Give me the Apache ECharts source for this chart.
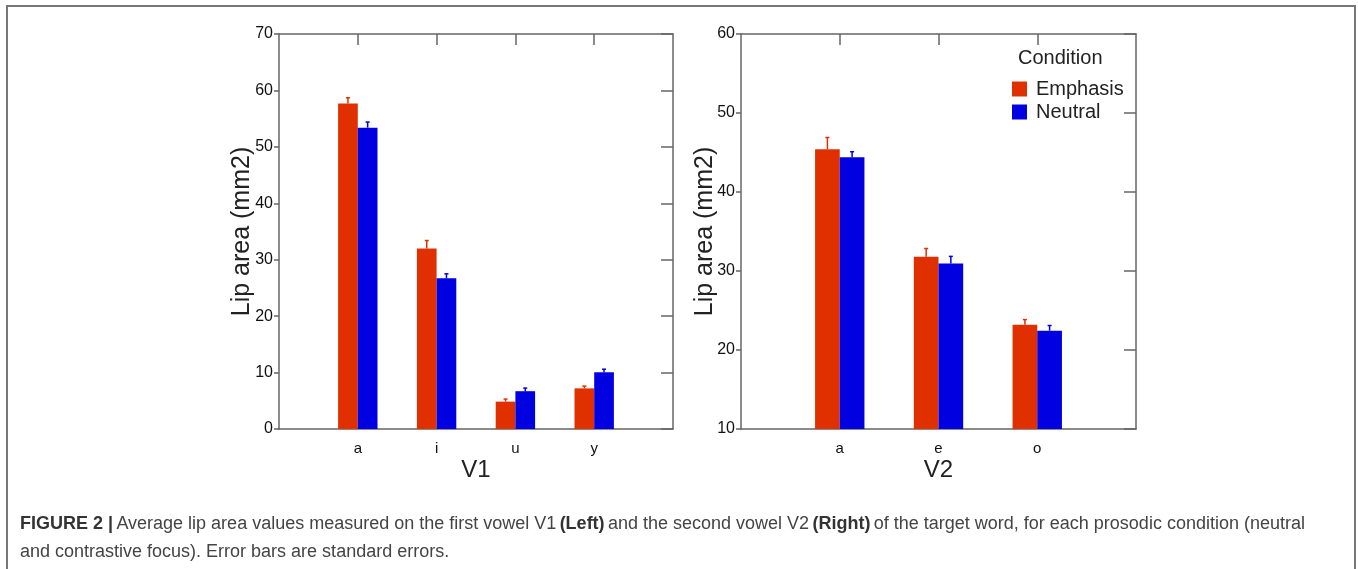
<!DOCTYPE html>
<html>
<head>
<meta charset="utf-8">
<script src="https://cdn.jsdelivr.net/npm/echarts@6/dist/echarts.min.js"></script>
<style>
html,body{margin:0;padding:0;background:#fff;}
#chart{width:1358px;height:569px;}
</style>
</head>
<body>
<div id="chart"></div>
<script>
// ---- data ----
const v1Categories = ['a', 'i', 'u', 'y'];
const v1Emphasis = [57.7, 32.0, 4.85, 7.2];
const v1EmphasisSE = [1.0, 1.4, 0.45, 0.4];
const v1Neutral = [53.4, 26.7, 6.7, 10.05];
const v1NeutralSE = [1.0, 0.8, 0.55, 0.55];

const v2Categories = ['a', 'e', 'o'];
const v2Emphasis = [45.4, 31.8, 23.2];
const v2EmphasisSE = [1.5, 1.05, 0.65];
const v2Neutral = [44.4, 30.95, 22.45];
const v2NeutralSE = [0.7, 0.9, 0.65];

const v1Ticks = { min: 0, max: 70, interval: 10 };
const v2Ticks = { min: 10, max: 60, interval: 10 };
const seriesNames = ['Emphasis', 'Neutral'];
// ---- end data ----

const RED = '#e03000';
const BLUE = '#0000e0';
const AXIS = '#666';
const FONT = '"Liberation Sans", Arial, Helvetica, sans-serif';

function padCats(c) { return [''].concat(c, ['']); }
function padVals(v) { return [null].concat(v, [null]); }

function errData(vals, se) {
  return vals.map((v, i) => [i + 1, v, v + se[i]]);
}

function errSeries(grid, vals, se, side, color) {
  return {
    type: 'custom',
    xAxisIndex: grid * 2,
    yAxisIndex: grid * 2,
    z: 5,
    silent: true,
    data: errData(vals, se),
    renderItem: function (params, api) {
      const step = api.size([1, 0])[0];
      const off = step * 0.125 * side;
      const base = api.coord([api.value(0), api.value(1)]);
      const top = api.coord([api.value(0), api.value(2)]);
      const x = base[0] + off;
      return {
        type: 'group',
        children: [
          { type: 'line', shape: { x1: x, y1: base[1], x2: x, y2: top[1] }, style: { stroke: color, lineWidth: 1.5 } },
          { type: 'line', shape: { x1: x - 2, y1: top[1], x2: x + 2, y2: top[1] }, style: { stroke: color, lineWidth: 1.5 } }
        ]
      };
    }
  };
}

function xAxes(grid, cats, name) {
  const tickInt = function (i, v) { return v !== ''; };
  return [
    {
      type: 'category', gridIndex: grid, data: padCats(cats), boundaryGap: false, position: 'bottom',
      axisLine: { show: true, onZero: false, lineStyle: { color: AXIS, width: 1.5 } },
      axisTick: { show: false },
      axisLabel: { show: true, interval: 0, color: '#111', fontSize: 15, fontFamily: FONT, margin: 12 },
      splitLine: { show: false },
      name: name, nameLocation: 'middle', nameGap: 29, nameMoveOverlap: false,
      nameTextStyle: { fontSize: 24, fontFamily: FONT, color: '#222' }
    },
    {
      type: 'category', gridIndex: grid, data: padCats(cats), boundaryGap: false, position: 'top',
      axisLine: { show: true, onZero: false, lineStyle: { color: AXIS, width: 1.5 } },
      axisTick: { show: true, inside: true, length: 11, interval: tickInt, lineStyle: { color: AXIS, width: 1.5 } },
      axisLabel: { show: false },
      splitLine: { show: false }
    }
  ];
}

function yAxes(grid, t, gap) {
  return [
    {
      type: 'value', gridIndex: grid, min: t.min, max: t.max, interval: t.interval, position: 'left',
      axisLine: { show: true, onZero: false, lineStyle: { color: AXIS, width: 1.5 } },
      axisTick: { show: true, inside: false, length: 5, lineStyle: { color: AXIS, width: 1.5 } },
      axisLabel: { show: true, color: '#111', fontSize: 16, fontFamily: FONT, margin: 6 },
      splitLine: { show: false },
      name: 'Lip area (mm2)', nameLocation: 'middle', nameGap: gap, nameRotate: 90, nameMoveOverlap: false,
      nameTextStyle: { fontSize: 25, fontFamily: FONT, color: '#222' }
    },
    {
      type: 'value', gridIndex: grid, min: t.min, max: t.max, interval: t.interval, position: 'right',
      axisLine: { show: true, onZero: false, lineStyle: { color: AXIS, width: 1.5 } },
      axisTick: { show: true, inside: true, length: 12, lineStyle: { color: AXIS, width: 1.5 } },
      axisLabel: { show: false },
      splitLine: { show: false }
    }
  ];
}

function barSeries(grid, name, vals, color) {
  return {
    type: 'bar', name: name, xAxisIndex: grid * 2, yAxisIndex: grid * 2,
    data: padVals(vals), barWidth: '25%', barGap: '0%',
    itemStyle: { color: color }, z: 3, silent: true
  };
}

const chart = echarts.init(document.getElementById('chart'), null, { renderer: 'canvas' });

const option = {
  animation: false,
  backgroundColor: '#fff',
  textStyle: { fontFamily: FONT },
  grid: [
    { left: 279, top: 34, width: 394, height: 395 },
    { left: 741, top: 34, width: 395, height: 395 }
  ],
  xAxis: [].concat(xAxes(0, v1Categories, 'V1'), xAxes(1, v2Categories, 'V2')),
  yAxis: [].concat(yAxes(0, v1Ticks, 24), yAxes(1, v2Ticks, 23)),
  legend: {
    data: seriesNames,
    orient: 'vertical',
    left: 1007, top: 74,
    itemWidth: 15, itemHeight: 15, itemGap: 3,
    icon: 'rect',
    textStyle: { fontSize: 20, fontFamily: FONT, color: '#222', padding: [0, 0, 0, 4] },
    selectedMode: false
  },
  graphic: [
    { type: 'rect', shape: { x: 7, y: 6, width: 1348, height: 620 }, style: { fill: 'none', stroke: '#777', lineWidth: 2 }, silent: true },
    { type: 'text', left: 1018, top: 48, style: { text: 'Condition', font: '20px ' + FONT, fill: '#222' } },
    {
      type: 'text', left: 20, top: 510,
      style: {
        text: '{b|FIGURE 2 |} {n|Average lip area values measured on the first vowel V1} {b|(Left)} {n|and the second vowel V2} {b|(Right)} {n|of the target word, for each prosodic condition (neutral}\n{n|and contrastive focus). Error bars are standard errors.}',
        lineHeight: 28,
        rich: {
          b: { font: 'bold 18px ' + FONT, fill: '#333', lineHeight: 28 },
          n: { font: '18px ' + FONT, fill: '#444', lineHeight: 28 }
        }
      }
    }
  ],
  series: [
    barSeries(0, 'Emphasis', v1Emphasis, RED),
    barSeries(0, 'Neutral', v1Neutral, BLUE),
    errSeries(0, v1Emphasis, v1EmphasisSE, -1, RED),
    errSeries(0, v1Neutral, v1NeutralSE, 1, BLUE),
    barSeries(1, 'Emphasis', v2Emphasis, RED),
    barSeries(1, 'Neutral', v2Neutral, BLUE),
    errSeries(1, v2Emphasis, v2EmphasisSE, -1, RED),
    errSeries(1, v2Neutral, v2NeutralSE, 1, BLUE)
  ]
};
chart.setOption(option);
</script>
</body>
</html>
